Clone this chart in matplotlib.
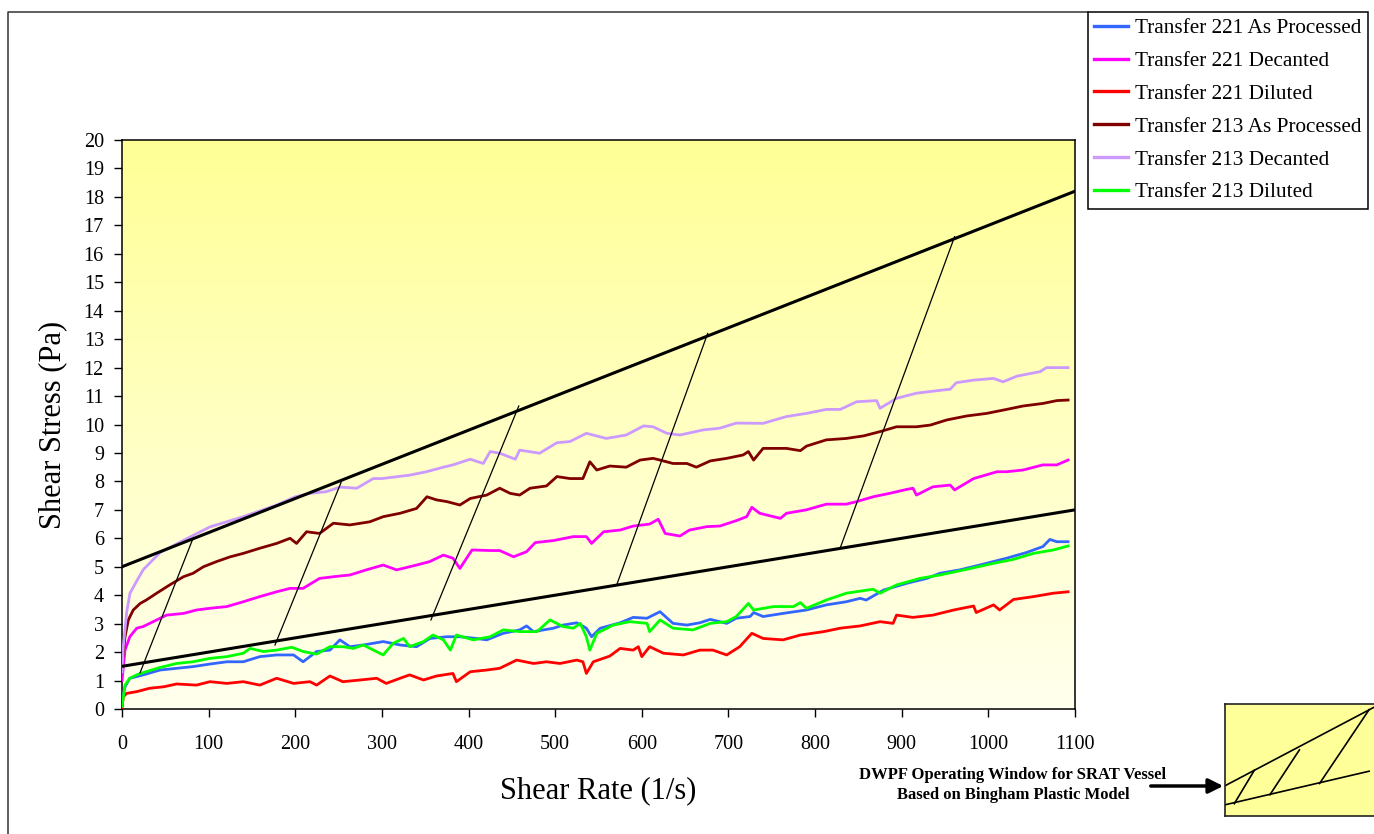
import numpy as np
import matplotlib
matplotlib.use("Agg")
import matplotlib.pyplot as plt
from matplotlib.lines import Line2D

plt.rcParams['font.family'] = ['Liberation Serif', 'DejaVu Serif']

# --- measured curves (shear rate 1/s, shear stress Pa) ---
t221_ap_x = [0, 3.5, 9, 17, 24.6, 44, 63, 82, 101.5, 121, 140, 159, 178.5, 198, 209, 224.6, 240, 251.5,
             263, 278.5, 301.5, 321, 340, 355.5, 375, 390, 409, 421, 440, 459, 467, 475, 498, 509, 525,
             536, 542, 552, 575, 590, 606, 621, 636, 652, 667, 679, 698, 709, 725, 729, 740, 763, 790,
             813, 836, 852, 859, 879, 906, 929, 944, 967, 990, 1021, 1044, 1063, 1071, 1079, 1092]
t221_ap_y = [0.3, 0.78, 1.08, 1.14, 1.2, 1.37, 1.43, 1.49, 1.58, 1.66, 1.66, 1.84, 1.9, 1.9, 1.66, 2.02, 2.07, 2.43,
             2.19, 2.25, 2.37, 2.25, 2.19, 2.48, 2.54, 2.54, 2.48, 2.43, 2.66, 2.78, 2.92, 2.72, 2.84, 2.95, 3.03,
             2.84, 2.54, 2.84, 3.03, 3.22, 3.19, 3.42, 3.01, 2.95, 3.03, 3.15, 3.01, 3.19, 3.25, 3.39, 3.25, 3.36, 3.48,
             3.66, 3.77, 3.89, 3.83, 4.18, 4.42, 4.59, 4.77, 4.89, 5.06, 5.3, 5.5, 5.71, 5.96, 5.88, 5.88]

t221_dec_x = [0, 3.5, 9, 17, 24.6, 36, 51.5, 71, 86, 101.5, 121, 140, 159, 178.5, 194, 209, 228, 244, 263,
              282, 301.5, 317, 340, 355, 371, 382, 390, 404, 425, 436, 452, 467, 477, 498, 521, 536, 542,
              556, 575, 590, 609, 619, 627, 644, 655, 675, 690, 709, 721, 727, 736, 744, 760, 767, 790, 813,
              836, 848, 867, 886, 906, 913, 917, 936, 956, 961, 983, 1010, 1021, 1040, 1063, 1079, 1092]
t221_dec_y = [1.0, 2.07, 2.54, 2.84, 2.9, 3.07, 3.3, 3.36, 3.48, 3.54, 3.6, 3.77, 3.95, 4.12, 4.24, 4.24, 4.59, 4.65, 4.71,
              4.89, 5.06, 4.89, 5.06, 5.18, 5.41, 5.3, 4.94, 5.59, 5.57, 5.57, 5.35, 5.53, 5.85, 5.92, 6.06, 6.06, 5.82,
              6.23, 6.29, 6.43, 6.5, 6.67, 6.17, 6.08, 6.29, 6.41, 6.43, 6.62, 6.76, 7.09, 6.88, 6.82, 6.7, 6.88, 7.0, 7.2,
              7.2, 7.29, 7.46, 7.58, 7.72, 7.76, 7.52, 7.81, 7.87, 7.7, 8.1, 8.34, 8.34, 8.4, 8.58, 8.58, 8.75]

t221_dil_x = [0, 1.5, 5.4, 17, 32, 48, 63, 86, 101.5, 121, 140, 159, 178.5, 198, 217, 224.6, 240, 255, 275,
              294, 305, 321, 332, 348, 363, 382, 386, 402, 421, 436, 455.5, 475, 490, 505.5, 525, 532, 536,
              544, 563, 575, 590, 596, 600, 609, 625, 648, 667, 682, 698, 713, 727, 740, 763, 783, 810, 829,
              852, 875, 890, 894, 913, 936, 960, 983, 986, 1006, 1013, 1029, 1052, 1075, 1092]
t221_dil_y = [0.02, 0.43, 0.55, 0.61, 0.73, 0.78, 0.88, 0.84, 0.96, 0.9, 0.96, 0.84, 1.08, 0.9, 0.96, 0.84, 1.16, 0.96, 1.02,
              1.08, 0.9, 1.08, 1.2, 1.02, 1.16, 1.25, 0.96, 1.31, 1.37, 1.43, 1.72, 1.6, 1.66, 1.6, 1.72, 1.66, 1.25,
              1.66, 1.86, 2.13, 2.07, 2.19, 1.84, 2.19, 1.96, 1.9, 2.07, 2.07, 1.9, 2.19, 2.66, 2.48, 2.43, 2.6, 2.72, 2.84,
              2.92, 3.07, 3.01, 3.3, 3.22, 3.3, 3.48, 3.62, 3.39, 3.66, 3.48, 3.85, 3.95, 4.07, 4.12]

t213_ap_x = [0, 3.5, 7.3, 13, 21, 28, 40, 55, 71, 82, 94, 109, 125, 140, 159, 178.5, 194, 201.5, 213, 228,
             244, 263, 286, 301.5, 321, 340, 352, 363, 375, 390, 402, 421, 436, 448, 459, 471, 490, 502, 517,
             532, 540, 548, 563, 582, 598, 613, 621, 636, 652, 663, 679, 698, 717, 723, 729, 740, 767, 783,
             790, 813, 836, 856, 875, 894, 917, 933, 952, 975, 998, 1021, 1040, 1063, 1079, 1092]
t213_ap_y = [1.5, 2.54, 3.13, 3.48, 3.71, 3.83, 4.07, 4.36, 4.65, 4.77, 5.0, 5.18, 5.35, 5.47, 5.65, 5.82, 6.0, 5.82, 6.23, 6.17,
             6.53, 6.47, 6.58, 6.76, 6.88, 7.05, 7.46, 7.35, 7.29, 7.17, 7.4, 7.52, 7.76, 7.58, 7.52, 7.76, 7.84, 8.17, 8.1,
             8.1, 8.69, 8.4, 8.54, 8.5, 8.75, 8.81, 8.75, 8.63, 8.63, 8.5, 8.72, 8.81, 8.93, 9.05, 8.75, 9.16, 9.16, 9.08,
             9.24, 9.46, 9.51, 9.6, 9.75, 9.92, 9.92, 9.98, 10.16, 10.3, 10.39, 10.53, 10.65, 10.74, 10.84, 10.86]

t213_dec_x = [0, 1.5, 5.4, 9.2, 17, 24.6, 44, 63, 82, 101.5, 140, 178.5, 200, 217, 236, 251.5, 271, 290, 300,
              332, 351.5, 371, 382, 402, 417, 425, 436, 454, 459, 482, 502, 517, 536, 559, 582, 602, 613, 629,
              644, 671, 690, 709, 740, 767, 790, 813, 829, 848, 871, 875, 894, 917, 944, 956, 963, 983, 1006,
              1017, 1033, 1060, 1067, 1092]
t213_dec_y = [1.3, 2.2, 3.4, 4.07, 4.5, 4.9, 5.5, 5.8, 6.1, 6.4, 6.76, 7.17, 7.46, 7.58, 7.64, 7.8, 7.76, 8.1, 8.1,
              8.22, 8.34, 8.5, 8.58, 8.78, 8.63, 9.05, 8.99, 8.78, 9.1, 8.99, 9.36, 9.4, 9.69, 9.51, 9.63, 9.95, 9.92, 9.69,
              9.63, 9.81, 9.87, 10.05, 10.04, 10.28, 10.39, 10.53, 10.53, 10.8, 10.84, 10.57, 10.92, 11.1, 11.2, 11.24, 11.47, 11.56, 11.62,
              11.5, 11.7, 11.86, 12.0, 12.0]

t213_dil_x = [0, 3.5, 9, 17, 24.6, 44, 63, 82, 101.5, 121, 140, 148, 163, 178.5, 196, 209, 224.6, 240, 255,
              267, 278.5, 301.5, 313, 325, 332, 348, 359, 371, 379, 386, 405.5, 425, 440, 459, 479, 494, 509,
              521, 529, 536, 540, 548, 567, 586, 606, 609, 621, 636, 659, 679, 698, 709, 723, 729, 752, 775,
              783, 790, 813, 836, 867, 875, 894, 921, 944, 975, 1006, 1029, 1052, 1075, 1092]
t213_dil_y = [0.1, 0.84, 1.08, 1.2, 1.28, 1.46, 1.6, 1.66, 1.78, 1.84, 1.96, 2.13, 2.02, 2.07, 2.17, 2.02, 1.93, 2.19, 2.19,
              2.13, 2.25, 1.9, 2.31, 2.48, 2.19, 2.37, 2.6, 2.43, 2.07, 2.6, 2.43, 2.54, 2.78, 2.72, 2.72, 3.13, 2.9,
              2.84, 3.01, 2.54, 2.07, 2.66, 2.95, 3.07, 3.01, 2.72, 3.13, 2.84, 2.78, 3.01, 3.07, 3.25, 3.71, 3.48, 3.6, 3.6,
              3.74, 3.54, 3.83, 4.07, 4.21, 4.07, 4.36, 4.59, 4.71, 4.91, 5.12, 5.26, 5.47, 5.59, 5.73]

series_labels = ['Transfer 221 As Processed', 'Transfer 221 Decanted', 'Transfer 221 Diluted',
                 'Transfer 213 As Processed', 'Transfer 213 Decanted', 'Transfer 213 Diluted']
series_colors = ['#3366FF', '#FF00FF', '#FF0000', '#800000', '#CC99FF', '#00FF00']

# --- operating window (Bingham plastic limits) ---
window_x = [0, 1100]
window_upper = [5.0, 18.2]
window_lower = [1.5, 7.0]
hatch_x0 = [20.8, 176.6, 356.6, 571, 829]
hatch_y0 = [1.27, 2.25, 3.13, 4.36, 5.66]
hatch_x1 = [82, 254, 458, 676, 961]
hatch_y1 = [6.0, 8.05, 10.65, 13.2, 16.6]

# --- little schematic key (0..100 box units) ---
key_upper_x = [0, 96]
key_upper_y = [27, 97]
key_lower_x = [0, 93]
key_lower_y = [10, 40]
key_hatch_x0 = [6, 29, 61]
key_hatch_y0 = [11, 19, 29]
key_hatch_x1 = [19, 48, 93]
key_hatch_y1 = [41, 59, 95]

W, H = 1374, 834
fig = plt.figure(figsize=(W / 100, H / 100), dpi=100)
ax = fig.add_axes([122 / W, 1 - 709 / H, (1075 - 122) / W, (709 - 140) / H])

# yellow gradient plot area
grad = np.linspace(0, 1, 256).reshape(-1, 1)
top = np.array([255, 255, 150]) / 255
bot = np.array([255, 255, 238]) / 255
img = bot + grad[:, :, None] * (top - bot)
ax.imshow(img, extent=[0, 1100, 0, 20], origin='lower', aspect='auto', zorder=0)

xs = [t221_ap_x, t221_dec_x, t221_dil_x, t213_ap_x, t213_dec_x, t213_dil_x]
ys = [t221_ap_y, t221_dec_y, t221_dil_y, t213_ap_y, t213_dec_y, t213_dil_y]
handles = []
for x, y, lab, c in zip(xs, ys, series_labels, series_colors):
    h, = ax.plot(x, y, color=c, lw=2.0, label=lab, zorder=3)
    handles.append(h)

ax.plot(window_x, window_upper, color='black', lw=2.2, zorder=4)
ax.plot(window_x, window_lower, color='black', lw=2.2, zorder=4)
for a, b, c, d in zip(hatch_x0, hatch_y0, hatch_x1, hatch_y1):
    ax.plot([a, c], [b, d], color='black', lw=0.9, zorder=4)

ax.set_xlim(0, 1100)
ax.set_ylim(0, 20)
ax.set_xticks(np.arange(0, 1101, 100))
ax.set_yticks(np.arange(0, 21, 1))
ax.tick_params(direction='out', length=6, width=1, labelsize=14.5, pad=7)
ax.tick_params(axis='x', pad=13)
for s in ax.spines.values():
    s.set_color('black')
    s.set_linewidth(1.1)
ax.set_xlabel('Shear Rate (1/s)', fontsize=22, labelpad=16)
ax.set_ylabel('Shear Stress (Pa)', fontsize=22, labelpad=12)

leg = fig.legend(handles=handles, loc='upper left', bbox_to_anchor=(1088 / W, 1 - 12 / H),
                 fontsize=15.3, frameon=True, fancybox=False, edgecolor='black', framealpha=1,
                 handlelength=1.6, handletextpad=0.3, labelspacing=0.61, borderpad=0.3,
                 borderaxespad=0)
leg.get_frame().set_linewidth(1.1)
for lh in leg.get_lines():
    lh.set_linewidth(2.4)

# outer chart frame (top and left edges)
fig.add_artist(Line2D([8 / W, 8 / W, 1088 / W], [0, 1 - 12 / H, 1 - 12 / H],
                      transform=fig.transFigure, color='#333333', lw=1.1))

# schematic key box
kax = fig.add_axes([1225 / W, 1 - 816 / H, 155 / W, 112 / H])
kax.set_facecolor('#FFFF99')
kax.set_xlim(0, 100)
kax.set_ylim(0, 100)
kax.set_xticks([])
kax.set_yticks([])
for s in kax.spines.values():
    s.set_linewidth(1.2)
    s.set_color('#222222')
kax.plot(key_upper_x, key_upper_y, color='black', lw=1.2)
kax.plot(key_lower_x, key_lower_y, color='black', lw=1.2)
for a, b, c, d in zip(key_hatch_x0, key_hatch_y0, key_hatch_x1, key_hatch_y1):
    kax.plot([a, c], [b, d], color='black', lw=1.2)

fig.text(1013 / W, 1 - 775 / H, 'DWPF Operating Window for SRAT Vessel', ha='center', va='center',
         fontsize=12, fontweight='bold')
fig.text(1013 / W, 1 - 795 / H, 'Based on Bingham Plastic Model', ha='center', va='center',
         fontsize=12, fontweight='bold')
fig.add_artist(matplotlib.patches.FancyArrowPatch((1148 / W, 1 - 786 / H), (1226 / W, 1 - 786 / H),
                                                  transform=fig.transFigure, arrowstyle='-|>',
                                                  mutation_scale=22, lw=2.5, color='black'))

fig.savefig('out.png', dpi=100)
